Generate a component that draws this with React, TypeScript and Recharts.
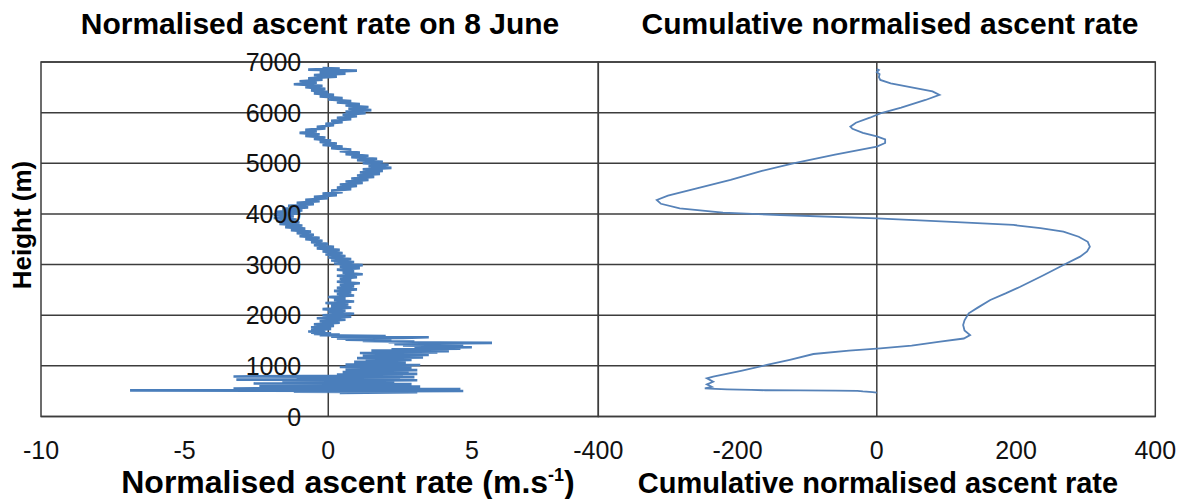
import React from 'react'
import { ScatterChart, Scatter, XAxis, YAxis, CartesianGrid, ReferenceLine, ReferenceArea } from 'recharts'

const heightTicks = [0, 1000, 2000, 3000, 4000, 5000, 6000, 7000]
const rateTicks = [-10, -5, 0, 5]
const cumulativeTicks = [-400, -200, 0, 200, 400]

// [height (m), normalised ascent rate (m/s)] from launch upwards
const rateProfile: [number, number][] = [
  [465, 0.4], [478, 3.1], [490, -1.2], [503, 4.7], [515, -6.9], [528, 1.4], [540, 4.6], [553, -3.3],
  [566, 2.0], [578, -1.9], [590, 3.2], [603, -2.4], [616, 1.6], [628, -0.9], [641, 2.9], [653, -2.6],
  [666, 0.8], [678, -1.6], [691, 2.3], [703, -0.7], [716, 3.1], [728, -3.2], [741, 0.4], [753, 2.5],
  [766, -1.1], [778, 3.0], [791, -3.3], [803, 0.9], [816, 2.6], [828, 0.3], [841, 3.1], [853, 0.8],
  [866, 2.2], [878, 0.5], [891, 2.8], [903, 1.2], [916, 3.1], [928, 0.6], [941, 2.4], [953, 1.1],
  [966, 2.9], [978, 0.4], [991, 2.2], [1003, 1.0], [1016, 3.2], [1028, 0.6], [1041, 2.0], [1053, 1.2],
  [1066, 2.7], [1078, 0.9], [1091, 2.4], [1103, 1.3], [1116, 2.9], [1128, 1.6], [1141, 2.5], [1153, 1.0],
  [1166, 3.3], [1178, 1.4], [1191, 2.6], [1203, 1.2], [1216, 3.5], [1228, 1.8], [1241, 2.9], [1253, 1.1],
  [1266, 3.8], [1278, 2.0], [1291, 4.2], [1303, 1.5], [1316, 3.6], [1328, 2.2], [1341, 4.6], [1353, 3.0],
  [1366, 5.0], [1378, 3.4], [1391, 4.1], [1403, 2.6], [1416, 4.7], [1428, 2.3], [1441, 3.8], [1453, 5.7],
  [1466, 2.1], [1478, 3.0], [1491, 1.2], [1503, 2.2], [1516, 0.6], [1528, 1.6], [1541, 0.3], [1553, 2.6],
  [1566, 3.5], [1578, 0.1], [1591, 2.0], [1603, -0.3], [1616, 0.4], [1628, -0.5], [1641, 0.1], [1653, -0.6],
  [1666, -0.1], [1678, -0.7], [1691, -0.2], [1703, -0.6],
  [1730, 0.1], [1760, -0.6], [1790, 0.2], [1820, -0.5], [1850, 0.4], [1880, -0.3], [1910, 0.6], [1940, -0.4],
  [1970, 0.8], [2000, -0.2], [2030, 0.9], [2060, 0.0], [2090, 0.6], [2120, -0.2], [2150, 0.8], [2180, 0.1],
  [2210, 0.7], [2240, -0.1], [2270, 0.9], [2300, 0.2], [2330, 0.6], [2360, 0.0], [2390, 0.9], [2420, 0.3],
  [2450, 0.8], [2480, 0.2], [2510, 1.0], [2540, 0.3], [2570, 0.9], [2600, 0.4], [2630, 1.1], [2660, 0.3],
  [2690, 0.8], [2720, 0.4], [2750, 1.0], [2780, 0.3], [2810, 1.2], [2840, 0.5], [2870, 0.9], [2900, 0.3],
  [2930, 1.1], [2960, 0.4], [2990, 1.2], [3020, 0.2], [3050, 0.9], [3080, 0.1], [3110, 0.8], [3140, 0.0],
  [3170, 0.6], [3200, -0.1], [3230, 0.5], [3260, -0.2], [3290, 0.4], [3320, -0.4], [3350, 0.2], [3380, -0.5],
  [3410, 0.0], [3440, -0.6], [3470, -0.2], [3500, -0.8], [3530, -0.3], [3560, -1.0], [3590, -0.5], [3620, -1.1],
  [3650, -0.6], [3680, -1.3], [3710, -0.8], [3740, -1.5], [3770, -0.9], [3800, -1.7], [3830, -1.0], [3860, -1.8],
  [3890, -1.1], [3920, -1.9], [3950, -1.2], [3980, -1.9], [4010, -1.0], [4040, -1.8], [4070, -0.9], [4100, -1.6],
  [4130, -0.7], [4160, -1.4], [4190, -0.5], [4220, -1.1], [4250, -0.3], [4280, -0.8], [4310, 0.0], [4340, -0.5],
  [4370, 0.3], [4400, -0.2], [4430, 0.5], [4460, 0.1], [4490, 0.8], [4520, 0.3], [4550, 1.0], [4580, 0.4],
  [4610, 1.2], [4640, 0.6], [4670, 1.4], [4700, 0.8], [4730, 1.6], [4760, 1.0], [4790, 1.8], [4820, 1.1],
  [4850, 1.9], [4880, 1.2], [4910, 2.2], [4940, 1.4], [4970, 2.1], [5000, 1.2], [5030, 1.9], [5060, 1.0],
  [5090, 1.7], [5120, 0.8], [5150, 1.4], [5180, 0.6], [5210, 1.1], [5240, 0.4], [5270, 0.8], [5300, 0.1],
  [5330, 0.5], [5360, -0.2], [5390, 0.3], [5420, -0.3], [5450, 0.1], [5480, -0.5], [5510, -0.1], [5540, -0.8],
  [5570, -0.3], [5600, -1.0], [5630, -0.4], [5660, -0.8], [5690, -0.1], [5720, -0.4], [5750, 0.2], [5780, -0.1],
  [5810, 0.5], [5840, 0.1], [5870, 0.8], [5900, 0.3], [5930, 1.0], [5960, 0.5], [5990, 1.3], [6020, 0.6],
  [6050, 1.5], [6080, 0.7], [6110, 1.4], [6140, 0.6], [6170, 1.1], [6200, 0.3], [6230, 0.8], [6260, 0.0],
  [6290, 0.5], [6320, -0.3], [6350, 0.2], [6380, -0.5], [6410, 0.0], [6440, -0.6], [6470, -0.1], [6500, -0.8],
  [6530, -0.2], [6560, -1.2], [6590, -0.4], [6620, -1.0], [6650, -0.2], [6680, -0.7], [6710, 0.3], [6740, -0.5],
  [6770, 0.6], [6800, -0.3], [6830, 1.0], [6850, -0.7], [6870, 0.4], [6880, -0.2],
]

// [height (m), cumulative normalised ascent rate]
const cumulativeProfile: [number, number][] = [
  [470, 0], [482, -6], [495, -20], [505, -28], [512, -60], [515, -110], [518, -160], [525, -180],
  [537, -215], [550, -240], [557, -247], [586, -237], [634, -244], [687, -235], [754, -244], [786, -235],
  [900, -195], [1017, -158], [1120, -125], [1234, -91], [1300, -40], [1347, 5], [1400, 50], [1477, 91],
  [1540, 125], [1609, 134], [1700, 126], [1807, 124], [1900, 126], [2038, 132], [2150, 145], [2300, 163],
  [2430, 185], [2563, 206], [2780, 238], [2992, 268], [3156, 292], [3260, 302], [3353, 306], [3450, 303],
  [3550, 290], [3650, 268], [3720, 235], [3782, 196], [3847, 100], [3914, 0], [3979, -139], [4025, -221],
  [4111, -283], [4200, -310], [4275, -316], [4360, -300], [4500, -260], [4673, -210], [4850, -165], [5000, -120],
  [5170, -60], [5328, 0], [5400, 12], [5474, 12], [5530, 0], [5600, -20], [5680, -35], [5723, -38],
  [5800, -30], [5900, -10], [5987, 5], [6100, 35], [6250, 70], [6349, 90], [6420, 80], [6500, 50],
  [6580, 20], [6645, 5], [6700, 3], [6760, 4], [6800, 0], [6842, 3], [6860, 0],
]

const rateData = rateProfile.map(([h, v]) => ({ h, v }))
const cumulativeData = cumulativeProfile.map(([h, v]) => ({ h, v }))

const FONT = '"Liberation Sans", Arial, sans-serif'
const GRID = '#3c3c3c'
const H = 499
const PLOT_TOP = 62
const PLOT_BOTTOM = 416.5
const TICK_BASELINE = 459

// left panel: x axis runs on past 5 and is cut off where the right panel starts
const LEFT_W = 640
const LEFT_PLOT = [41, 598.3]
const rateDomain = [-10, 9.4]
const zeroX = LEFT_PLOT[0] + ((LEFT_PLOT[1] - LEFT_PLOT[0]) * (0 - rateDomain[0])) / (rateDomain[1] - rateDomain[0])

const RIGHT_X = 540
const RIGHT_W = 1189 - RIGHT_X
const RIGHT_PLOT = [598.3, 1155.3]

const XTick = ({ x, payload }: any) => (
  <text x={x} y={TICK_BASELINE} textAnchor="middle" fontSize={25} fill="#111" fontFamily={FONT}>
    {payload.value}
  </text>
)

// height labels sit just left of the zero line, Excel style
const HeightTick = ({ y, payload }: any) => (
  <text x={zeroX - 27} y={y + 9} textAnchor="end" fontSize={25} fill="#111" fontFamily={FONT}>
    {payload.value}
  </text>
)

const noDot = () => <g />

export default function App() {
  return (
    <div style={{ position: 'absolute', left: 0, top: 0, width: 1189, height: H, background: '#fff', fontFamily: FONT }}>
      <div style={{ position: 'absolute', left: 0, top: 0 }}>
        <ScatterChart
          width={LEFT_W}
          height={H}
          margin={{ top: PLOT_TOP, left: LEFT_PLOT[0] - 1, right: LEFT_W - LEFT_PLOT[1], bottom: 0 }}
        >
          <CartesianGrid vertical={false} stroke={GRID} strokeWidth={1.5} />
          <XAxis
            type="number"
            dataKey="v"
            domain={rateDomain}
            ticks={rateTicks}
            allowDataOverflow
            height={H - PLOT_BOTTOM}
            axisLine={false}
            tickLine={false}
            tick={<XTick />}
          />
          <YAxis
            type="number"
            dataKey="h"
            domain={[0, 7000]}
            ticks={heightTicks}
            interval={0}
            width={1}
            axisLine={false}
            tickLine={false}
            tick={<HeightTick />}
          />
          <ReferenceArea x1={rateDomain[0]} x2={rateDomain[1]} y1={0} y2={7000} fill="none" stroke={GRID} strokeWidth={1.5} />
          <ReferenceLine x={0} stroke={GRID} strokeWidth={1.5} />
          <Scatter
            data={rateData}
            fill="#4a7ebb"
            line={{ stroke: '#4a7ebb', strokeWidth: 2.6 }}
            shape={noDot}
            isAnimationActive={false}
          />
        </ScatterChart>
      </div>

      <div style={{ position: 'absolute', left: RIGHT_X, top: 0 }}>
        <ScatterChart
          width={RIGHT_W}
          height={H}
          margin={{ top: PLOT_TOP, left: RIGHT_PLOT[0] - RIGHT_X, right: 1189 - RIGHT_PLOT[1], bottom: 0 }}
        >
          <CartesianGrid vertical={false} stroke={GRID} strokeWidth={1.5} />
          <XAxis
            type="number"
            dataKey="v"
            domain={[-400, 400]}
            ticks={cumulativeTicks}
            height={H - PLOT_BOTTOM}
            axisLine={false}
            tickLine={false}
            tick={<XTick />}
          />
          <YAxis type="number" dataKey="h" domain={[0, 7000]} ticks={heightTicks} hide />
          <ReferenceArea x1={-400} x2={400} y1={0} y2={7000} fill="none" stroke={GRID} strokeWidth={1.5} />
          <ReferenceLine x={0} stroke={GRID} strokeWidth={1.5} />
          <Scatter
            data={cumulativeData}
            fill="#5682b8"
            line={{ stroke: '#5682b8', strokeWidth: 1.8 }}
            shape={noDot}
            isAnimationActive={false}
          />
        </ScatterChart>
      </div>

      <svg width={1189} height={H} style={{ position: 'absolute', left: 0, top: 0, pointerEvents: 'none' }}>
        <g fontFamily={FONT} fontWeight="bold" fill="#000">
          <text x={320} y={34} textAnchor="middle" fontSize={30}>Normalised ascent rate on 8 June</text>
          <text x={890} y={34} textAnchor="middle" fontSize={30}>Cumulative normalised ascent rate</text>
          <text x={348} y={493} textAnchor="middle" fontSize={32}>
            Normalised ascent rate (m.s<tspan dy={-12} fontSize={18}>-1</tspan><tspan dy={12}>)</tspan>
          </text>
          <text x={878} y={493} textAnchor="middle" fontSize={29}>Cumulative normalised ascent rate</text>
          <text transform="translate(31,225) rotate(-90)" textAnchor="middle" fontSize={26}>Height (m)</text>
        </g>
      </svg>
    </div>
  )
}
